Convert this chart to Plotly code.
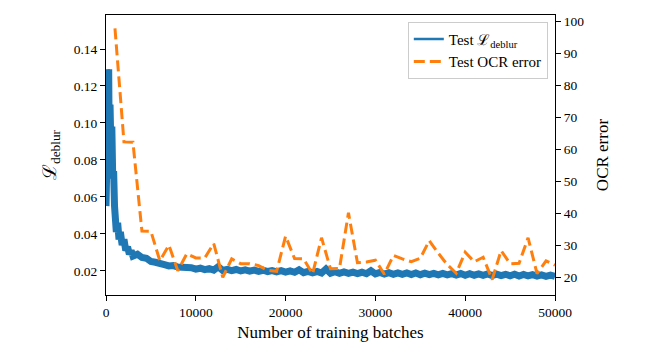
import plotly.graph_objects as go

# Test deblur loss (left axis)
loss_batches = [0, 100, 200, 300, 350, 450, 550, 650, 750, 850, 950, 1050, 1150, 1300, 1450,
                1600, 1800, 2000, 2200, 2400, 2600, 2800, 3000,
                3500, 4000, 4500, 5000, 5500, 6000, 6500, 7000, 7500, 8000, 8500, 9000, 9500, 10000,
                10500, 11000, 11500, 12000, 12500, 13000, 13500, 14000, 14500, 15000,
                15500, 16000, 16500, 17000, 17500, 18000, 18500, 19000, 19500, 20000,
                20500, 21000, 21500, 22000, 22500, 23000, 23500, 24000, 24500, 25000,
                25500, 26000, 26500, 27000, 27500, 28000, 28500, 29000, 29500, 30000,
                30500, 31000, 31500, 32000, 32500, 33000, 33500, 34000, 34500, 35000,
                35500, 36000, 36500, 37000, 37500, 38000, 38500, 39000, 39500, 40000,
                40500, 41000, 41500, 42000, 42500, 43000, 43500, 44000, 44500, 45000,
                45500, 46000, 46500, 47000, 47500, 48000, 48500, 49000, 49500, 50000]
loss_values = [0.055, 0.085, 0.120, 0.1290, 0.095, 0.110, 0.085, 0.098, 0.070, 0.074, 0.055, 0.050, 0.041, 0.046, 0.037,
               0.041, 0.034, 0.037, 0.031, 0.033, 0.029, 0.031, 0.028,
               0.0290, 0.0272, 0.0268, 0.0250, 0.0246, 0.0235, 0.0233, 0.0226, 0.0228, 0.0220, 0.0222, 0.0215, 0.0217, 0.0209,
               0.0214, 0.0206, 0.0212, 0.0204, 0.0222, 0.0202, 0.0208, 0.0201, 0.0207, 0.0199,
               0.0205, 0.0198, 0.0204, 0.0197, 0.0203, 0.0196, 0.0201, 0.0194, 0.0201, 0.0193,
               0.0199, 0.0192, 0.0205, 0.0190, 0.0197, 0.0189, 0.0196, 0.0188, 0.0210, 0.0187,
               0.0195, 0.0186, 0.0194, 0.0186, 0.0193, 0.0185, 0.0192, 0.0184, 0.0200, 0.0183,
               0.0191, 0.0182, 0.0190, 0.0181, 0.0189, 0.0181, 0.0188, 0.0180, 0.0188, 0.0179,
               0.0187, 0.0179, 0.0186, 0.0178, 0.0186, 0.0178, 0.0185, 0.0177, 0.0185, 0.0176,
               0.0184, 0.0176, 0.0183, 0.0175, 0.0183, 0.0174, 0.0182, 0.0174, 0.0181, 0.0173,
               0.0181, 0.0172, 0.0180, 0.0172, 0.0179, 0.0171, 0.0178, 0.0170, 0.0177, 0.0170]

# Test OCR error (right axis)
ocr_batches = [1000, 2000, 3000, 4000, 5000, 6000, 7000, 8000, 9000, 10000,
               11000, 12000, 13000, 14000, 15000, 16000, 17000, 18000, 19000, 20000,
               21000, 22000, 23000, 24000, 25000, 26000, 27000, 28000, 29000, 30000,
               31000, 32000, 33000, 34000, 35000, 36000, 37000, 38000, 39000, 40000,
               41000, 42000, 43000, 44000, 45000, 46000, 47000, 48000, 49000, 50000]
ocr_values = [97.9, 62.4, 62.3, 34.5, 34.4, 25.2, 30.1, 22.1, 27.4, 26.1,
              26.1, 30.6, 20.0, 25.8, 24.3, 24.3, 23.7, 22.2, 21.9, 32.9,
              25.9, 25.8, 21.1, 32.4, 22.7, 22.8, 40.2, 24.6, 24.8, 25.4,
              21.0, 26.9, 25.8, 24.9, 26.0, 31.5, 27.6, 24.0, 21.3, 27.9,
              24.9, 26.3, 19.3, 28.4, 24.3, 24.4, 32.4, 21.2, 25.2, 23.8]

x_ticks = [0, 10000, 20000, 30000, 40000, 50000]
x_labels = ["0", "10000", "20000", "30000", "40000", "50000"]
y1_ticks = [0.02, 0.04, 0.06, 0.08, 0.10, 0.12, 0.14]
y1_labels = ["0.02", "0.04", "0.06", "0.08", "0.10", "0.12", "0.14"]
y2_ticks = [20, 30, 40, 50, 60, 70, 80, 90, 100]
y2_labels = ["20", "30", "40", "50", "60", "70", "80", "90", "100"]

FONT = "Liberation Serif, DejaVu Serif, serif"

fig = go.Figure()
fig.add_trace(go.Scatter(
    x=loss_batches, y=loss_values, mode="lines",
    line=dict(color="#1f77b4", width=7),
    showlegend=False, yaxis="y"))
fig.add_trace(go.Scatter(
    x=loss_batches, y=loss_values, mode="lines",
    line=dict(color="#1f77b4", width=2.5),
    name="Test ℒ<sub>deblur</sub>", yaxis="y"))
fig.add_trace(go.Scatter(
    x=ocr_batches, y=ocr_values, mode="lines",
    line=dict(color="#ff7f0e", width=3, dash="11px,5px"),
    name="Test OCR error", yaxis="y2"))

axis_common = dict(showline=True, linecolor="black", linewidth=1, ticks="outside",
                   ticklen=5, tickwidth=1, tickcolor="black", showgrid=False, zeroline=False,
                   tickfont=dict(family=FONT, size=13.5, color="black"))

fig.update_layout(
    width=672, height=353,
    margin=dict(l=106, r=117, t=15, b=58),
    paper_bgcolor="white", plot_bgcolor="white",
    font=dict(family=FONT, color="black"),
    xaxis=dict(range=[0, 50000], tickvals=x_ticks, ticktext=x_labels, mirror=True,
               title=dict(text="Number of training batches", font=dict(family=FONT, size=17), standoff=6),
               **axis_common),
    yaxis=dict(range=[0.0069, 0.1584], tickvals=y1_ticks, ticktext=y1_labels,
               title=dict(text="ℒ<sub>deblur</sub>", font=dict(family=FONT, size=19), standoff=12),
               **axis_common),
    yaxis2=dict(range=[14.5, 102.1], tickvals=y2_ticks, ticktext=y2_labels, overlaying="y", side="right",
                title=dict(text="OCR error", font=dict(family=FONT, size=17), standoff=12),
                **axis_common),
    legend=dict(x=0.984, y=0.976, xanchor="right", yanchor="top",
                bgcolor="rgba(255,255,255,0.8)", bordercolor="#cccccc", borderwidth=1,
                font=dict(family=FONT, size=15, color="black"), itemwidth=30,
                tracegroupgap=0),
    showlegend=True,
)

fig.write_html("out.html")
